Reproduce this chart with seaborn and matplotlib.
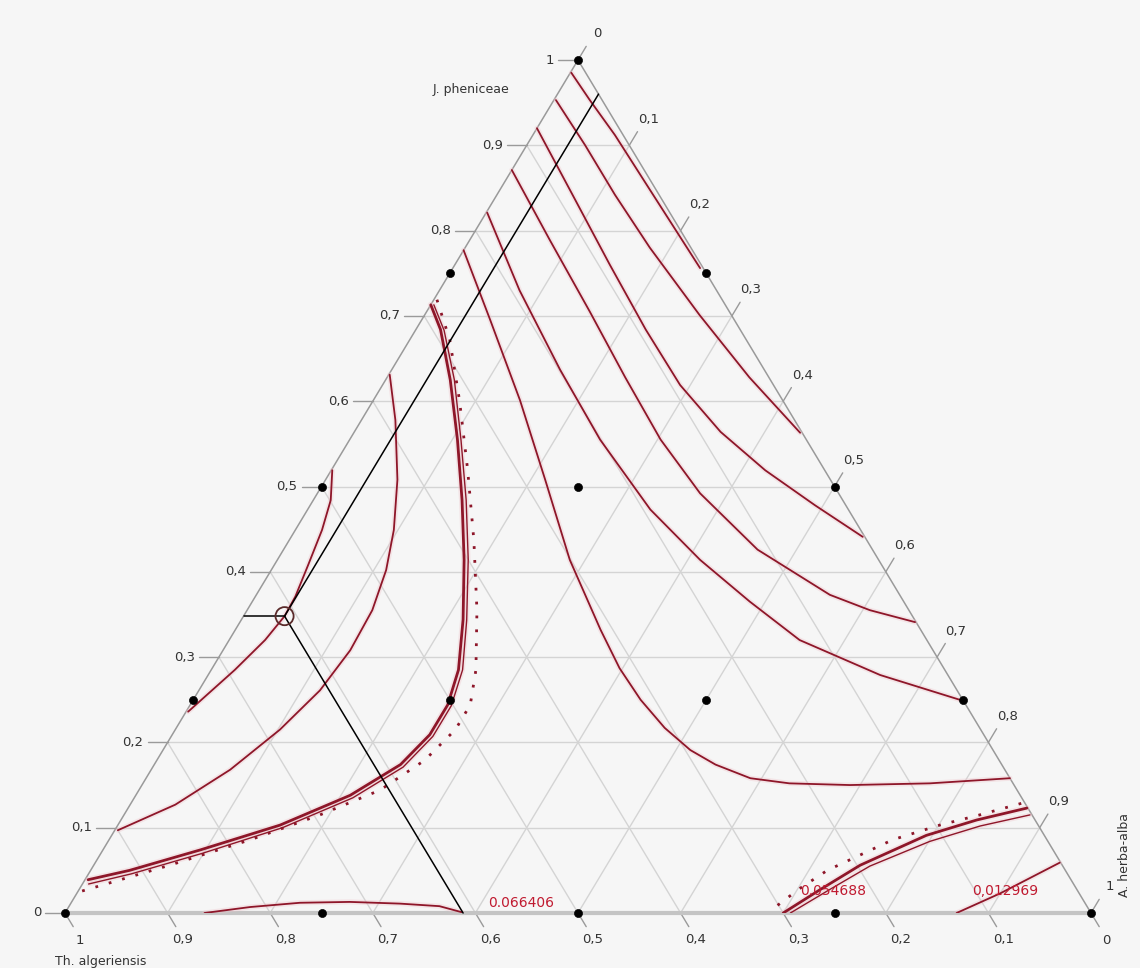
import numpy as np
import pandas as pd
import matplotlib
matplotlib.use("Agg")
import matplotlib.pyplot as plt
import seaborn as sns

# ---------------- data (ternary fractions: A = A. herba-alba, J = J. pheniceae; Th = 1 - A - J)
component_names = ["Th. algeriensis", "A. herba-alba", "J. pheniceae"]
tick_values = [0.0, 0.1, 0.2, 0.3, 0.4, 0.5, 0.6, 0.7, 0.8, 0.9, 1.0]

# {3,4} simplex-lattice design points
design_A = [0, 0, 0.25, 0, 0.25, 0.5, 0, 0.25, 0.5, 0.75, 0, 0.25, 0.5, 0.75, 1.0]
design_J = [1, 0.75, 0.75, 0.5, 0.5, 0.5, 0.25, 0.25, 0.25, 0.25, 0, 0, 0, 0, 0]

# optimum point
opt_A, opt_J = 0.040, 0.348

# contour lines (upper-right family)
R1_J = [0.985, 0.953, 0.912, 0.848, 0.756]
R1_A = [0.001, 0.035, 0.080, 0.146, 0.241]
R2_J = [0.953, 0.900, 0.842, 0.780, 0.701, 0.628, 0.563]
R2_A = [0.002, 0.057, 0.115, 0.180, 0.268, 0.353, 0.435]
R3_J = [0.920, 0.848, 0.760, 0.684, 0.619, 0.564, 0.519, 0.478, 0.441]
R3_A = [0.000, 0.068, 0.151, 0.224, 0.290, 0.357, 0.423, 0.492, 0.557]
R4_J = [0.871, 0.789, 0.705, 0.628, 0.555, 0.492, 0.426, 0.373, 0.355, 0.341]
R4_A = [0.000, 0.078, 0.159, 0.232, 0.303, 0.373, 0.462, 0.559, 0.607, 0.658]
R5_J = [0.821, 0.730, 0.637, 0.555, 0.473, 0.414, 0.365, 0.320, 0.279, 0.250]
R5_A = [0.001, 0.078, 0.164, 0.244, 0.334, 0.412, 0.485, 0.556, 0.655, 0.747]
R6_J = [0.777, 0.695, 0.601, 0.508, 0.414, 0.332, 0.287, 0.250, 0.217, 0.191, 0.174, 0.158, 0.152, 0.150, 0.152, 0.158]
R6_A = [0.000, 0.067, 0.143, 0.214, 0.285, 0.356, 0.397, 0.436, 0.476, 0.514, 0.547, 0.589, 0.630, 0.690, 0.767, 0.842]

# left family
L1_J = [0.713, 0.684, 0.625, 0.555, 0.484, 0.414, 0.344, 0.285, 0.244, 0.209, 0.174, 0.138, 0.103, 0.074, 0.050, 0.039]
L1_A = [0.000, 0.024, 0.063, 0.105, 0.145, 0.182, 0.216, 0.241, 0.251, 0.251, 0.240, 0.209, 0.158, 0.095, 0.038, 0.003]
L1b_J = [0.713, 0.683, 0.625, 0.554, 0.484, 0.414, 0.343, 0.285, 0.243, 0.207, 0.171, 0.135, 0.100, 0.070, 0.046, 0.034]
L1b_A = [0.003, 0.028, 0.067, 0.109, 0.149, 0.186, 0.220, 0.245, 0.255, 0.255, 0.244, 0.213, 0.162, 0.099, 0.042, 0.006]
L1d_J = [0.719, 0.672, 0.601, 0.519, 0.437, 0.355, 0.285, 0.244, 0.215, 0.179, 0.144, 0.115, 0.086, 0.056, 0.025]
L1d_A = [0.003, 0.039, 0.084, 0.133, 0.180, 0.224, 0.258, 0.273, 0.273, 0.261, 0.235, 0.191, 0.138, 0.074, 0.002]
L2_J = [0.631, 0.578, 0.508, 0.449, 0.402, 0.355, 0.308, 0.261, 0.215, 0.168, 0.127, 0.097]
L2_A = [0.001, 0.033, 0.070, 0.096, 0.112, 0.122, 0.124, 0.118, 0.102, 0.077, 0.044, 0.003]
L3_J = [0.519, 0.484, 0.449, 0.408, 0.371, 0.348, 0.320, 0.285, 0.236]
L3_A = [0.001, 0.017, 0.026, 0.033, 0.039, 0.040, 0.035, 0.023, 0.002]

# bottom family
B1_J = [0.000, 0.007, 0.012, 0.013, 0.011, 0.008, 0.001]
B1_A = [0.136, 0.177, 0.223, 0.271, 0.321, 0.361, 0.386]
BR1_J = [0.000, 0.027, 0.056, 0.091, 0.109, 0.123]
BR1_A = [0.700, 0.722, 0.747, 0.794, 0.834, 0.876]
BR1b_J = [0.000, 0.028, 0.055, 0.084, 0.102, 0.115]
BR1b_A = [0.707, 0.732, 0.757, 0.801, 0.841, 0.883]
BR1d_J = [0.009, 0.029, 0.050, 0.068, 0.086, 0.103, 0.115, 0.129]
BR1d_A = [0.690, 0.702, 0.718, 0.741, 0.764, 0.801, 0.834, 0.869]
BR2_J = [0.000, 0.023, 0.041, 0.059]
BR2_A = [0.869, 0.900, 0.920, 0.940]

contour_labels = ["0.066406", "0.054688", "0,012969"]
label_A = [0.410, 0.708, 0.876]
label_J = [0.004, 0.017, 0.017]

# ---------------- styling
BG = "#f6f6f6"
RED = "#8e1629"
HALO = "#efc3ca"
LRED = "#c01a30"
GRID = "#d4d4d4"
EDGE = "#9a9a9a"

sns.set_theme(style="white")
plt.rcParams['font.family'] = ['DejaVu Sans']

W, H = 1140, 968
fig = plt.figure(figsize=(W / 100, H / 100), dpi=100, facecolor=BG)
ax = fig.add_axes([65 / W, (968 - 913) / H, 1026 / W, 853 / H])
ax.set_facecolor(BG)
ax.set_xlim(0, 1)
ax.set_ylim(0, 1)
ax.axis('off')
PX, PY = 1 / 1026, 1 / 853


def xy(A, J):
    A = np.asarray(A, float)
    J = np.asarray(J, float)
    return A + J / 2, J


def seg(A, J, **kw):
    x, y = xy(A, J)
    ax.plot(x, y, clip_on=False, **kw)


# grid
TL = 0.016
for v in tick_values[1:-1]:
    seg([0, 1 - v], [v, v], color=GRID, lw=1.0, zorder=1)          # J constant
    seg([v, v], [0, 1 - v], color=GRID, lw=1.0, zorder=1)          # A constant
    seg([1 - v, 0], [0, 1 - v], color=GRID, lw=1.0, zorder=1)      # Th constant

# ticks
for v in tick_values:
    x0, y0 = xy(0, v)
    ax.plot([x0 - 20 * PX, x0], [y0, y0], color=EDGE, lw=1.0, clip_on=False, zorder=2)
    seg([v, v], [1 - v, 1 - v + TL], color=EDGE, lw=1.0, zorder=2)
    seg([1 - v, 1 - v + TL], [0, -TL], color=EDGE, lw=1.0, zorder=2)


def fmt(v):
    if v == 0:
        return "0"
    if v == 1:
        return "1"
    return f"{v:.1f}".replace(".", ",")


for v in tick_values:
    x0, y0 = xy(0, v)
    ax.text(x0 - 24 * PX, y0, fmt(v), ha="right", va="center", fontsize=9.5, color="#333333")
    x1, y1 = xy(v, 1 - v)
    ax.text(x1 + 19 * PX, y1 + 26 * PY, fmt(v), ha="center", va="center", fontsize=9.5, color="#333333")
    x2, y2 = xy(1 - v, 0)
    ax.text(x2 + 15 * PX, y2 - 27 * PY, fmt(v), ha="center", va="center", fontsize=9.5, color="#333333")

# edges
seg([0, 0], [0, 1], color=EDGE, lw=1.1, zorder=3)
seg([0, 1], [1, 0], color=EDGE, lw=1.1, zorder=3)
ax.plot([0, 1], [0, 0], color="#c4c4c4", lw=3.0, zorder=3, clip_on=False)

# axis titles
ax.text(xy(0, 1)[0] - 107 * PX, 1 - 30 * PY, component_names[2], ha="center", va="center", fontsize=9, color="#333333")
ax.text(-10 * PX, -49 * PY, component_names[0], ha="left", va="center", fontsize=9, color="#333333")
ax.text(1 + 34 * PX, 58 * PY, component_names[1], ha="center", va="center", rotation=90, fontsize=9, color="#333333")


def contour(A, J, lw, ls="-"):
    x, y = xy(A, J)
    if ls == "-":
        ax.plot(x, y, color=HALO, lw=lw + 2.4, alpha=0.35, zorder=3.5, solid_capstyle="round")
    sns.lineplot(x=x, y=y, sort=False, estimator=None, color=RED, lw=lw, linestyle=ls, ax=ax, zorder=4)


for A, J in [(R1_A, R1_J), (R2_A, R2_J), (R3_A, R3_J), (R4_A, R4_J), (R5_A, R5_J), (R6_A, R6_J),
             (L2_A, L2_J), (L3_A, L3_J), (B1_A, B1_J), (BR2_A, BR2_J)]:
    contour(A, J, 1.3)
for A, J, lw in [(L1_A, L1_J, 2.0), (L1b_A, L1b_J, 1.0), (BR1_A, BR1_J, 2.0), (BR1b_A, BR1b_J, 1.0)]:
    contour(A, J, lw)
for A, J in [(L1d_A, L1d_J), (BR1d_A, BR1d_J)]:
    contour(A, J, 2.0, (0, (1, 4)))

for t, a, j in zip(contour_labels, label_A, label_J):
    x, y = xy(a, j)
    ax.text(x, y, t, ha="left", va="bottom", fontsize=10, color=LRED, zorder=6)

# optimum guide lines
ox, oy = xy(opt_A, opt_J)
seg([0, opt_A], [opt_J, opt_J], color="black", lw=1.1, zorder=5)
seg([opt_A, opt_A + opt_J], [opt_J, 0], color="black", lw=1.1, zorder=5)
seg([opt_A, opt_A], [opt_J, 1 - opt_A], color="black", lw=1.1, zorder=5)
ax.scatter([ox], [oy], s=170, facecolors="none", edgecolors="#5a2a2a", linewidths=1.3, zorder=6)

# design points
dx, dy = xy(design_A, design_J)
sns.scatterplot(x=dx, y=dy, color="black", s=34, edgecolor="black", ax=ax, zorder=7, clip_on=False, legend=False)

ax.set_xlim(0, 1)
ax.set_ylim(0, 1)
fig.savefig("out.png", dpi=100, facecolor=BG)
